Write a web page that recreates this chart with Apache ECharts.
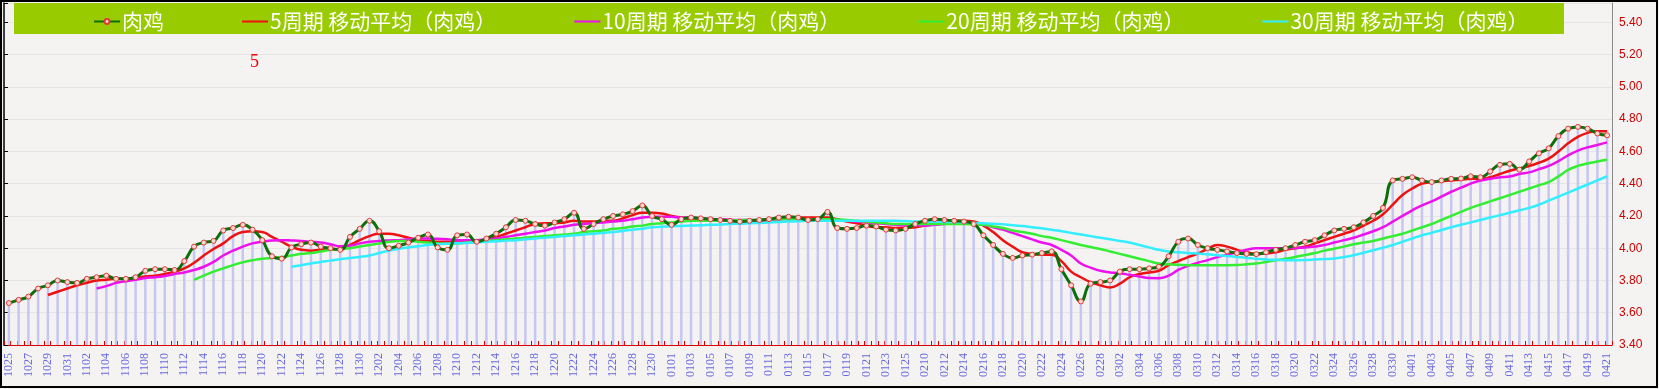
<!DOCTYPE html>
<html><head><meta charset="utf-8">
<script src="https://cdn.jsdelivr.net/npm/echarts@6/dist/echarts.min.js"></script>
<style>html,body{margin:0;padding:0;background:#fff;}#c{width:1659px;height:389px;}</style>
</head><body><div id="c"></div>
<script>
const categories = [
'1025','1026','1027','1028','1029','1030','1031',
'1101','1102','1103','1104','1105','1106','1107','1108','1109','1110','1111','1112','1113','1114','1115','1116','1117','1118','1119','1120','1121','1122','1123','1124','1125','1126','1127','1128','1129','1130',
'1201','1202','1203','1204','1205','1206','1207','1208','1209','1210','1211','1212','1213','1214','1215','1216','1217','1218','1219','1220','1221','1222','1223','1224','1225','1226','1227','1228','1229','1230','1231',
'0101','0102','0103','0104','0105','0106','0107','0108','0109','0110','0111','0112','0113','0114','0115','0116','0117','0118','0119','0120','0121','0122','0123','0124','0125',
'0209',
'0210','0211','0212','0213','0214','0215','0216','0217','0218','0219','0220','0221','0222','0223','0224','0225','0226','0227','0228',
'0301','0302','0303','0304','0305','0306','0307','0308','0309','0310','0311','0312','0313','0314','0315','0316','0317','0318','0319','0320','0321','0322','0323','0324','0325','0326','0327','0328','0329','0330','0331',
'0401','0402','0403','0404','0405','0406','0407','0408','0409','0410','0411','0412','0413','0414','0415','0416','0417','0418','0419','0420','0421'
];
const price = [
3.66,3.68,3.70,3.75,3.77,3.80,3.79,
3.785,3.81,3.82,3.83,3.81,3.81,3.82,3.86,3.87,3.87,3.865,3.92,4.01,4.035,4.045,4.11,4.125,4.145,4.115,4.05,3.95,3.935,4.005,4.025,4.035,4.01,4.00,3.99,4.07,4.12,
4.17,4.105,4.00,4.015,4.035,4.065,4.085,4.005,3.99,4.08,4.085,4.04,4.06,4.09,4.13,4.175,4.17,4.15,4.14,4.16,4.18,4.22,4.12,4.15,4.18,4.20,4.21,4.23,4.265,4.20,4.18,
4.145,4.18,4.19,4.185,4.18,4.175,4.17,4.165,4.17,4.175,4.18,4.19,4.195,4.19,4.175,4.18,4.225,4.125,4.12,4.125,4.14,4.135,4.115,4.11,4.12,
4.15,
4.17,4.18,4.175,4.17,4.165,4.15,4.08,4.02,3.965,3.94,3.955,3.96,3.97,3.98,3.87,3.77,3.67,3.78,3.79,
3.80,3.855,3.87,3.87,3.875,3.885,3.95,4.04,4.06,4.02,4.00,3.99,3.98,3.97,3.965,3.963,3.975,3.99,4.00,4.02,4.04,4.05,4.08,4.11,4.12,4.13,4.16,4.20,4.25,4.42,4.43,
4.44,4.42,4.41,4.42,4.43,4.432,4.446,4.44,4.476,4.517,4.523,4.487,4.538,4.588,4.619,4.695,4.741,4.752,4.741,4.711,4.70
];
const ma5 = [
null,null,null,null,3.71,3.73,3.75,3.77,3.785,3.80,
3.805,3.81,3.81,3.815,3.825,3.83,3.84,3.855,3.875,3.91,
3.955,3.995,4.03,4.075,4.10,4.105,4.10,4.07,4.04,4.01,
3.99,3.985,3.99,3.99,4.00,4.02,4.05,4.075,4.09,4.09,
4.08,4.065,4.05,4.045,4.04,4.04,4.035,4.04,4.045,4.055,
4.07,4.09,4.11,4.13,4.15,4.155,4.155,4.16,4.17,4.165,
4.165,4.17,4.17,4.185,4.205,4.22,4.22,4.215,4.20,4.19,
4.18,4.175,4.175,4.175,4.175,4.17,4.17,4.17,4.175,4.18,
4.185,4.19,4.19,4.19,4.19,4.18,4.165,4.155,4.14,4.13,
4.13,4.125,4.125,4.13,4.14,4.15,4.165,4.17,4.17,4.165,
4.14,4.10,4.05,4.01,3.975,3.965,3.96,3.96,3.92,3.855,
3.82,3.79,3.77,3.757,3.78,3.82,3.84,3.85,3.86,3.895,
3.92,3.945,3.967,3.995,4.02,4.01,3.99,3.975,3.965,3.968,
3.975,3.99,4.0,4.01,4.03,4.05,4.07,4.09,4.11,4.14,
4.17,4.21,4.27,4.33,4.37,4.40,4.41,4.415,4.42,4.425,
4.43,4.43,4.44,4.46,4.48,4.495,4.51,4.53,4.555,4.60,
4.65,4.69,4.715,4.725,4.725
];
const ma10 = [
null,null,null,null,null,null,null,null,null,3.75,
3.765,3.785,3.795,3.805,3.815,3.82,3.828,3.84,3.85,3.865,
3.885,3.915,3.955,3.985,4.01,4.03,4.04,4.048,4.05,4.048,
4.045,4.04,4.035,4.025,4.012,4.015,4.03,4.04,4.045,4.048,
4.05,4.055,4.06,4.06,4.058,4.056,4.05,4.05,4.05,4.055,
4.06,4.07,4.08,4.09,4.10,4.11,4.125,4.135,4.145,4.15,
4.155,4.16,4.165,4.17,4.18,4.19,4.195,4.195,4.195,4.19,
4.19,4.185,4.18,4.18,4.175,4.175,4.175,4.175,4.175,4.18,
4.18,4.18,4.18,4.18,4.18,4.175,4.17,4.165,4.16,4.155,
4.15,4.145,4.14,4.14,4.14,4.145,4.15,4.155,4.155,4.15,
4.145,4.13,4.115,4.095,4.075,4.055,4.035,4.02,3.99,3.955,
3.905,3.88,3.86,3.85,3.845,3.835,3.825,3.815,3.814,3.83,
3.865,3.89,3.91,3.926,3.945,3.96,3.975,3.99,4.0,4.0,
4.0,4.0,4.002,4.004,4.01,4.02,4.035,4.05,4.065,4.085,
4.105,4.13,4.165,4.20,4.235,4.265,4.29,4.32,4.35,4.375,
4.40,4.42,4.43,4.44,4.445,4.46,4.47,4.49,4.51,4.54,
4.575,4.605,4.625,4.64,4.656
];
const ma20 = [
null,null,null,null,null,null,null,null,null,null,
null,null,null,null,null,null,null,null,null,3.804,
3.83,3.855,3.875,3.895,3.912,3.925,3.935,3.94,3.945,3.955,
3.965,3.97,3.98,3.99,3.995,4.00,4.01,4.02,4.03,4.04,
4.045,4.045,4.04,4.035,4.03,4.028,4.03,4.035,4.04,4.045,
4.05,4.055,4.06,4.065,4.07,4.075,4.08,4.085,4.09,4.10,
4.105,4.11,4.12,4.125,4.135,4.14,4.15,4.155,4.16,4.165,
4.17,4.17,4.17,4.17,4.172,4.174,4.175,4.176,4.178,4.18,
4.18,4.18,4.18,4.18,4.18,4.178,4.175,4.17,4.165,4.16,
4.155,4.15,4.15,4.15,4.15,4.15,4.15,4.15,4.15,4.148,
4.145,4.135,4.125,4.11,4.10,4.09,4.075,4.065,4.05,4.035,
4.02,4.007,3.995,3.98,3.965,3.95,3.935,3.92,3.905,3.90,
3.897,3.895,3.895,3.895,3.895,3.895,3.896,3.90,3.905,3.915,
3.925,3.935,3.946,3.958,3.97,3.985,3.997,4.01,4.025,4.035,
4.045,4.06,4.075,4.09,4.11,4.13,4.15,4.175,4.20,4.225,
4.25,4.27,4.29,4.31,4.33,4.35,4.37,4.39,4.41,4.445,
4.485,4.51,4.525,4.537,4.548
];
const ma30 = [
null,null,null,null,null,null,null,null,null,null,
null,null,null,null,null,null,null,null,null,null,
null,null,null,null,null,null,null,null,null,3.885,
3.895,3.905,3.915,3.923,3.932,3.94,3.946,3.955,3.97,3.985,
3.997,4.005,4.012,4.02,4.025,4.028,4.03,4.033,4.036,4.04,
4.043,4.047,4.05,4.055,4.06,4.065,4.07,4.075,4.08,4.085,
4.09,4.095,4.10,4.107,4.115,4.12,4.13,4.133,4.136,4.138,
4.14,4.142,4.145,4.147,4.15,4.152,4.155,4.157,4.16,4.162,
4.165,4.167,4.17,4.17,4.17,4.17,4.17,4.17,4.17,4.17,
4.17,4.17,4.168,4.166,4.165,4.164,4.163,4.162,4.16,4.158,
4.155,4.152,4.148,4.143,4.137,4.13,4.123,4.115,4.105,4.095,
4.085,4.075,4.065,4.055,4.045,4.035,4.02,4.005,3.99,3.98,
3.975,3.97,3.967,3.962,3.957,3.952,3.946,3.94,3.935,3.93,
3.928,3.926,3.926,3.927,3.93,3.933,3.936,3.945,3.957,3.972,
3.987,4.003,4.02,4.04,4.06,4.08,4.095,4.113,4.13,4.145,
4.16,4.175,4.19,4.205,4.22,4.235,4.25,4.27,4.295,4.32,
4.345,4.37,4.395,4.42,4.446
];
const yTicks = {min: 3.4, max: 5.52, interval: 0.2};
const seriesNames = ['肉鸡','5周期 移动平均（肉鸡）','10周期 移动平均（肉鸡）','20周期 移动平均（肉鸡）','30周期 移动平均（肉鸡）'];

const chart = echarts.init(document.getElementById('c'), null, {renderer: 'canvas'});
const gridTop = 3, gridBottom = 44, gridLeft = 4, gridRight = 47;
const hideSym = {opacity: 0};
chart.setOption({
  animation: false,
  backgroundColor: '#f4f3f2',
  grid: {left: gridLeft, right: gridRight, top: gridTop, bottom: gridBottom, containLabel: false},
  graphic: [
    {type: 'rect', z: 3, shape: {x: 14, y: 3, width: 1550, height: 31}, style: {fill: '#99cc00'}},
    {type: 'text', z: 10, left: 250, top: 53, style: {text: '5', fill: '#ee0000', font: '18px "Liberation Serif"'}},
    {type: 'rect', z: 20, silent: true, shape: {x: 1, y: 1, width: 1656, height: 386}, style: {fill: 'none', stroke: '#000', lineWidth: 2}}
  ],
  legend: {
    data: [
      {name: seriesNames[0]},
      {name: seriesNames[1], itemStyle: hideSym},
      {name: seriesNames[2], itemStyle: hideSym},
      {name: seriesNames[3], itemStyle: hideSym},
      {name: seriesNames[4], itemStyle: hideSym}
    ],
    left: 88, top: 6, z: 10,
    itemGap: 77, itemWidth: 26, itemHeight: 6,
    textStyle: {color: '#ffffff', fontSize: 21, fontFamily: '"Noto Sans CJK SC"', padding: [0, 0, 0, -3]},
    selectedMode: false
  },
  xAxis: [
    {type: 'category', data: categories, boundaryGap: true, position: 'bottom',
     axisLine: {show: false}, axisTick: {show: false}, splitLine: {show: false},
     axisLabel: {interval: 1, rotate: 90, margin: 8, color: '#6a6ae0', fontSize: 12, fontFamily: '"Liberation Serif"'}},
    {type: 'value', min: 0, max: 241, interval: 1, position: 'bottom', gridIndex: 0,
     axisLine: {show: true, lineStyle: {color: '#dd0000', width: 1}},
     axisTick: {show: true, inside: true, length: 4, lineStyle: {color: '#dd0000'}},
     axisLabel: {show: false}, splitLine: {show: false}}
  ],
  yAxis: [
    {type: 'value', position: 'left', min: yTicks.min, max: yTicks.max, interval: yTicks.interval,
     axisLine: {show: true, lineStyle: {color: '#000', width: 1.5}},
     axisTick: {show: true, inside: true, length: 4, lineStyle: {color: '#000'}},
     axisLabel: {show: false},
     splitLine: {show: true, lineStyle: {color: '#e6e5e5', width: 1}}},
    {type: 'value', position: 'right', min: yTicks.min, max: yTicks.max, interval: yTicks.interval,
     axisLine: {show: true, lineStyle: {color: '#8a8a8a', width: 1}},
     axisTick: {show: false},
     axisLabel: {show: true, color: '#cc0000', fontSize: 12, margin: 7, fontFamily: '"Liberation Sans"', showMaxLabel: false,
       formatter: v => v.toFixed(2)},
     splitLine: {show: false}}
  ],
  series: [
    {type: 'bar', name: 'bars', data: price, xAxisIndex: 0, yAxisIndex: 0, barWidth: 2.5,
     itemStyle: {color: '#c6c6f4'}, silent: true, z: 1},
    {type: 'line', name: seriesNames[1], data: ma5, xAxisIndex: 0, yAxisIndex: 0, smooth: true, symbol: 'none',
     lineStyle: {color: '#ee1111', width: 2.5}, itemStyle: {color: '#ee1111'}, z: 3},
    {type: 'line', name: seriesNames[2], data: ma10, xAxisIndex: 0, yAxisIndex: 0, smooth: true, symbol: 'none',
     lineStyle: {color: '#ee11ee', width: 2.5}, itemStyle: {color: '#ee11ee'}, z: 3},
    {type: 'line', name: seriesNames[3], data: ma20, xAxisIndex: 0, yAxisIndex: 0, smooth: true, symbol: 'none',
     lineStyle: {color: '#33ee33', width: 2.5}, itemStyle: {color: '#33ee33'}, z: 3},
    {type: 'line', name: seriesNames[4], data: ma30, xAxisIndex: 0, yAxisIndex: 0, smooth: true, symbol: 'none',
     lineStyle: {color: '#33eeff', width: 2.5}, itemStyle: {color: '#33eeff'}, z: 3},
    {type: 'line', name: seriesNames[0], data: price, xAxisIndex: 0, yAxisIndex: 0, smooth: 0.5,
     symbol: 'circle', symbolSize: 5, showAllSymbol: true,
     lineStyle: {color: '#0b700b', width: 3}, itemStyle: {color: '#ffd6d6', borderColor: '#e23a3a', borderWidth: 1}, z: 5}
  ]
});
</script></body></html>
